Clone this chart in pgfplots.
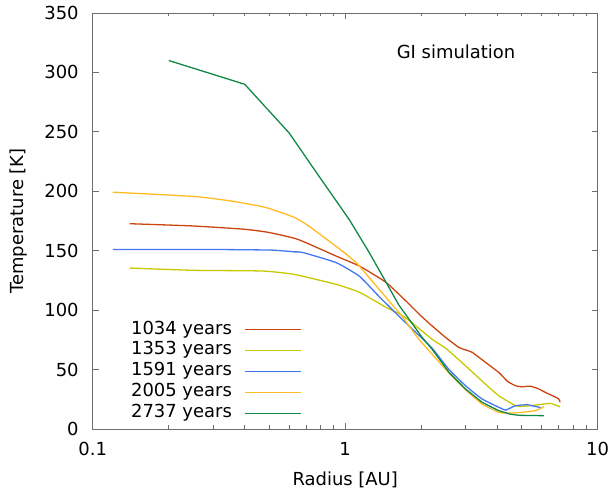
\documentclass[border=0pt]{standalone}
\usepackage{pgfplots}
\pgfplotsset{compat=1.18}
\usepackage{fontspec}
\setmainfont{DejaVu Sans}
\definecolor{cA}{RGB}{204,68,17}
\definecolor{cB}{RGB}{200,200,0}
\definecolor{cC}{RGB}{68,119,238}
\definecolor{cD}{RGB}{255,187,34}
\definecolor{cE}{RGB}{17,136,68}
\definecolor{axgray}{RGB}{110,110,110}
\begin{document}
\begin{tikzpicture}
\fontsize{18bp}{21bp}\selectfont
\begin{axis}[
  scale only axis, width=506bp, height=417bp,
  xmode=log, xmin=0.1, xmax=10, ymin=0, ymax=350,
  xtick={0.1,1,10}, xticklabels={0.1,1,10},
  ytick={0,50,...,350},
  /pgf/number format/assume math mode=true,
  axis line style={axgray, line width=0.8bp},
  every tick/.append style={axgray, line width=0.8bp},
  major tick length=6bp, minor tick length=3.5bp,
  tick label style={font=\fontsize{18bp}{21bp}\selectfont},
  yticklabel style={xshift=-8bp},
  xticklabel style={yshift=-7bp},
  label style={font=\fontsize{18bp}{21bp}\selectfont},
  xlabel={Radius [AU]}, ylabel={Temperature [K]},
  xlabel style={at={(axis description cs:0.5,-0.122)}, anchor=center},
  ylabel style={at={(axis description cs:-0.148,0.5)}, anchor=center},
  legend plot pos=right,
  legend cell align=right,
  legend image code/.code={\draw[#1] (0bp,0bp) -- (57bp,0bp);},
  legend style={at={(axis description cs:0.415,0.012)}, anchor=south east,
    fill=none, draw=none, inner sep=0pt, row sep=0pt, column sep=10bp,
    font=\fontsize{18bp}{21bp}\selectfont,
    nodes={inner sep=2bp, text height=13bp, text depth=4bp}},
]
\addplot[color=cA, line width=1.3bp, smooth, tension=0.3] coordinates {
(0.14,172.7) (0.25,170.8) (0.40,168) (0.50,165.3) (0.65,159.5) (0.92,145.5) (1.14,137)
(1.45,123.4) (1.74,107.7) (2.0,95) (2.21,86.7) (2.5,77) (2.82,68.6) (3.0,66.5) (3.19,64.4)
(3.6,56) (4.06,47.6) (4.4,40) (4.73,36.4) (5.0,35.5) (5.41,36) (5.8,34) (6.21,30.8)
(7.0,25.5) (7.1,22.5)};
\addlegendentry{1034 years}
\addplot[color=cB, line width=1.3bp, smooth, tension=0.3] coordinates {
(0.14,135.4) (0.25,133.5) (0.47,132.9) (0.63,130) (0.92,121.7) (1.14,115) (1.45,102.4)
(1.635,97) (1.8,91) (2.21,75.5) (2.5,68) (3.0,53.1) (3.5,40) (4.06,28) (4.73,19.6)
(5.0,19) (5.67,20.1) (6.5,21.5) (7.1,18.7)};
\addlegendentry{1353 years}
\addplot[color=cC, line width=1.3bp, smooth, tension=0.3] coordinates {
(0.12,151) (0.3,151) (0.51,150.5) (0.63,149) (0.676,148.6) (0.92,140) (1.14,128.4)
(1.36,111.6) (1.68,92.3) (2.0,77) (2.21,68) (2.58,50) (3.0,36.4) (3.49,25.2) (4.2,16.8)
(4.32,15.8) (4.73,19.6) (5.26,20.4) (5.5,19.5) (5.75,18.7) (5.97,18)};
\addlegendentry{1591 years}
\addplot[color=cD, line width=1.3bp, smooth, tension=0.3] coordinates {
(0.12,199.2) (0.253,195.6) (0.364,191.4) (0.465,187.2) (0.501,185.5) (0.629,178)
(0.721,170.4) (0.921,153.6) (1.105,140) (1.362,117.5) (1.68,94.8) (1.96,75.5) (2.58,47)
(3.0,33) (3.49,21) (4.06,14) (4.45,13.4) (5.0,14) (5.67,15.4) (6.12,18.7)};
\addlegendentry{2005 years}
\addplot[color=cE, line width=1.3bp] coordinates {
(0.2,310) (0.4,290) (0.6,249) (0.789,212.4) (1.037,176.3) (1.244,148.6) (1.452,123.4)
(1.635,104) (2.015,77.2) (2.21,67.1) (2.58,47.6) (3.0,33.6) (3.49,22.4) (4.06,15.4)
(4.5,12.5) (4.88,11.5) (6.12,11.2)};
\addlegendentry{2737 years}
\node[font=\fontsize{18bp}{21bp}\selectfont] at (axis cs:2.75,317) {GI simulation};
\end{axis}
\path ([xshift=-93bp,yshift=-66bp]current axis.south west) rectangle ([xshift=16bp,yshift=13bp]current axis.north east);
\end{tikzpicture}
\end{document}
